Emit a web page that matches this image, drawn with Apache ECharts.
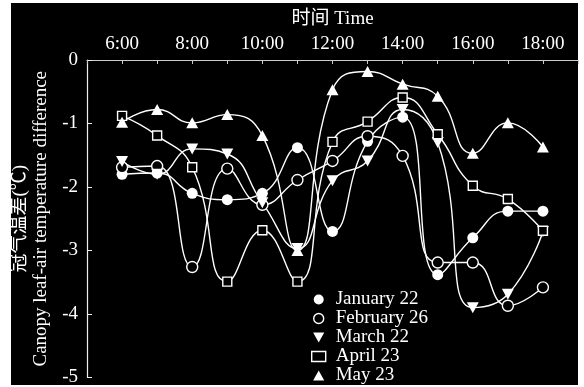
<!DOCTYPE html>
<html>
<head>
<meta charset="utf-8">
<script src="https://cdn.jsdelivr.net/npm/echarts@6/dist/echarts.min.js"></script>
<style>
html,body{margin:0;padding:0;background:#fff;width:584px;height:387px;overflow:hidden;}
#bg{position:absolute;left:11px;top:3px;width:567px;height:382px;background:#000;}
#chart{position:absolute;left:0;top:0;width:584px;height:387px;}
</style>
</head>
<body>
<div id="bg"></div>
<div id="chart"></div>
<script>
const hours = [6,7,8,9,10,11,12,13,14,15,16,17,18];
const seriesNames = ['January 22','February 26','March 22','April 23','May 23'];
const jan22 = [-1.8,-1.78,-2.1,-2.2,-2.1,-1.38,-2.7,-1.28,-0.9,-3.38,-2.8,-2.38,-2.38];
const feb26 = [-1.69,-1.67,-3.26,-1.71,-2.28,-1.89,-1.59,-1.2,-1.51,-3.19,-3.19,-3.87,-3.58];
const mar22 = [-1.6,-1.8,-1.4,-1.48,-2.25,-2.97,-1.9,-1.59,-0.78,-1.3,-3.9,-3.69,-2.7];
const apr23 = [-0.88,-1.19,-1.69,-3.49,-2.68,-3.49,-1.29,-0.97,-0.59,-1.17,-1.98,-2.19,-2.69];
const may23 = [-0.98,-0.78,-0.99,-0.86,-1.19,-3.0,-0.47,-0.18,-0.38,-0.57,-1.47,-0.99,-1.37];
const xTickLabels = ['6:00','8:00','10:00','12:00','14:00','16:00','18:00'];

const FONT = "'Liberation Serif','Noto Sans CJK SC',serif";
const downTri = 'path://M0,0 L10,0 L5,9 Z';
const upTri = 'path://M5,0 L10,9 L0,9 Z';

function pairs(arr){ return hours.map((h,i)=>[h,arr[i]]); }

const hollow = {color:'#000', borderColor:'#fff', borderWidth:1.4};
const solid = {color:'#fff', borderColor:'#fff', borderWidth:0};

const defs = [
  {data:jan22, symbol:'circle', size:11, style:solid},
  {data:feb26, symbol:'circle', size:11, style:hollow},
  {data:mar22, symbol:downTri, size:[12,11], style:solid},
  {data:apr23, symbol:'rect', size:9, style:hollow},
  {data:may23, symbol:upTri, size:[12,11], style:solid}
];

const labelMap = {};
xTickLabels.forEach(t=>{ labelMap[parseInt(t,10)] = t; });

const chart = echarts.init(document.getElementById('chart'), null, {renderer:'canvas'});
chart.setOption({
  backgroundColor:'transparent',
  animation:false,
  textStyle:{fontFamily:FONT},
  grid:{left:87, right:6, top:60, bottom:6},
  xAxis:{
    type:'value', position:'top', min:5, max:19, interval:1,
    name:'时间 Time', nameLocation:'middle', nameGap:31,
    nameTextStyle:{color:'#fff', fontSize:19, fontFamily:FONT},
    axisLine:{show:true, lineStyle:{color:'#ccc', width:1.2}},
    axisTick:{show:true, inside:true, length:4, lineStyle:{color:'#ccc'}},
    axisLabel:{color:'#fff', fontSize:19, fontFamily:FONT, margin:6,
      formatter:v=> labelMap[v] || ''},
    splitLine:{show:false}
  },
  yAxis:{
    type:'value', min:-5, max:0, interval:1,
    name:'冠气温差(℃)\nCanopy leaf-air temperature difference',
    nameLocation:'middle', nameGap:32,
    nameTextStyle:{color:'#fff', fontSize:19, fontFamily:FONT, lineHeight:21},
    axisLine:{show:true, lineStyle:{color:'#eee', width:1.2}},
    axisTick:{show:true, inside:true, length:5, lineStyle:{color:'#eee'}},
    axisLabel:{color:'#fff', fontSize:19, fontFamily:FONT, margin:9},
    splitLine:{show:false}
  },
  legend:{
    orient:'vertical', left:311, top:290, height:140, itemGap:0, padding:0,
    itemWidth:14, itemHeight:10,
    textStyle:{color:'#fff', fontSize:19, fontFamily:FONT, lineHeight:18, padding:[0,0,0,5]},
    data: seriesNames.map((n,i)=>({
      name:n,
      icon: defs[i].symbol,
      itemStyle: Object.assign({}, defs[i].style)
    }))
  },
  series: seriesNames.map((n,i)=>({
    name:n, type:'line', smooth:0.5,
    data: pairs(defs[i].data),
    symbol: defs[i].symbol, symbolSize: defs[i].size,
    showAllSymbol:true,
    lineStyle:{color:'#fff', width:1.4},
    itemStyle: Object.assign({}, defs[i].style),
    emphasis:{disabled:true}
  }))
});
</script>
</body>
</html>
